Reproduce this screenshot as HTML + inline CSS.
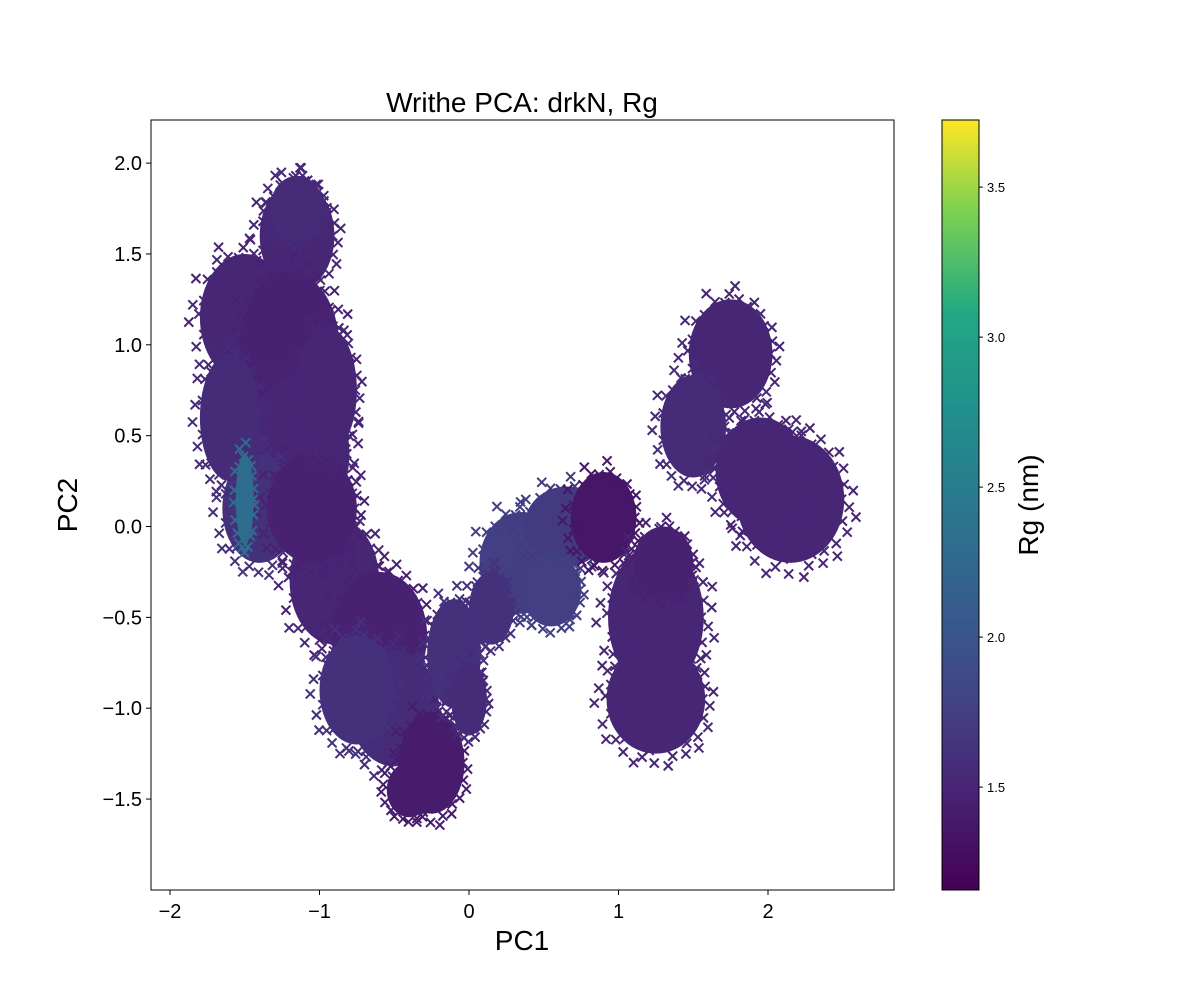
<!DOCTYPE html>
<html><head><meta charset="utf-8"><style>
body{margin:0;background:#fff;font-family:"Liberation Sans","DejaVu Sans",sans-serif}
svg text{font-family:"Liberation Sans","DejaVu Sans",sans-serif}
</style></head><body>
<svg id="chart" width="1200" height="1000" xmlns="http://www.w3.org/2000/svg">
<rect width="1200" height="1000" fill="#fff"/>
<g id="marks"></g>
<rect x="151" y="120" width="743" height="770" fill="none" stroke="#000" stroke-width="1"/>
<g id="xaxis"></g>
<g id="yaxis"></g>
<text x="522" y="112" font-size="28" text-anchor="middle">Writhe PCA: drkN, Rg</text>
<text x="522" y="950" font-size="28" text-anchor="middle">PC1</text>
<text transform="translate(77,505) rotate(-90)" font-size="28" text-anchor="middle">PC2</text>
<defs><linearGradient id="vir" x1="0" y1="1" x2="0" y2="0">
<stop offset="0" stop-color="#440154"/><stop offset="0.13" stop-color="#482475"/><stop offset="0.25" stop-color="#414487"/><stop offset="0.38" stop-color="#355f8d"/><stop offset="0.5" stop-color="#2a788e"/><stop offset="0.63" stop-color="#21918c"/><stop offset="0.75" stop-color="#22a884"/><stop offset="0.88" stop-color="#7ad151"/><stop offset="1" stop-color="#fde725"/></linearGradient></defs>
<rect x="942" y="120" width="37" height="770" fill="url(#vir)" stroke="#000" stroke-width="1"/>
<g id="cbaxis"></g>
<text transform="translate(1038,505) rotate(-90)" font-size="28" text-anchor="middle">Rg (nm)</text>
</svg>
<script>
const xTicks=[-2,-1,0,1,2];
const yTicks=[-1.5,-1.0,-0.5,0.0,0.5,1.0,1.5,2.0];
const cbTicks=[1.5,2.0,2.5,3.0,3.5];
// clusters: centre x, centre y, radius x, radius y (data units), Rg value
const clusterX=[-1.15,-1.5,-1.2,-1.15,-1.4,-0.9,-0.6,-0.5,-0.25,-0.1,0.35,0.65,0.9,1.25,1.25,1.75,1.5,2.15,-1.6,-1.05,-0.75,-0.4,0.15,0.0,0.55,1.95,1.3,-1.15,-0.95,-1.5];
const clusterY=[1.6,1.15,1.0,0.4,0.1,-0.3,-0.6,-1.0,-1.3,-0.7,-0.2,0.0,0.05,-0.5,-0.95,0.95,0.55,0.15,0.6,0.1,-0.9,-1.45,-0.45,-0.95,-0.35,0.3,-0.2,1.75,0.75,0.15];
const clusterRX=[0.25,0.3,0.33,0.35,0.25,0.3,0.32,0.3,0.22,0.18,0.28,0.28,0.22,0.32,0.33,0.28,0.22,0.36,0.2,0.3,0.25,0.15,0.15,0.12,0.2,0.3,0.2,0.18,0.2,0.06];
const clusterRY=[0.3,0.35,0.4,0.42,0.3,0.35,0.35,0.32,0.28,0.3,0.28,0.22,0.25,0.4,0.3,0.3,0.28,0.35,0.35,0.3,0.3,0.15,0.2,0.2,0.2,0.3,0.2,0.18,0.35,0.25];
const clusterRg=[1.5,1.5,1.45,1.5,1.6,1.5,1.45,1.55,1.4,1.6,1.75,1.7,1.35,1.5,1.5,1.5,1.55,1.5,1.55,1.45,1.6,1.4,1.6,1.55,1.75,1.5,1.45,1.55,1.5,2.3];
const NS="http://www.w3.org/2000/svg";
const xS=v=>469+v*149.5, yS=v=>526.5-v*181.7, cS=v=>890-(v-1.157)*300;
function vir(v){const t=Math.max(0,Math.min(1,(v-1.157)/(3.723-1.157)));
const st=[[68,1,84],[72,36,117],[65,68,135],[53,95,141],[42,120,142],[33,145,140],[34,168,132],[122,209,81],[253,231,37]];
const p=t*8,i=Math.min(7,Math.floor(p)),f=p-i;return `rgb(${st[i].map((c,k)=>Math.round(c+(st[i+1][k]-c)*f)).join(',')})`;}
function mk(tag,a){const e=document.createElementNS(NS,tag);for(const k in a)e.setAttribute(k,a[k]);return e;}
const g=document.getElementById('marks');
function xm(px,py,col){const p=mk('path',{d:`M${px-4.5},${py-4.5}L${px+4.5},${py+4.5}M${px-4.5},${py+4.5}L${px+4.5},${py-4.5}`,stroke:col,'stroke-width':2});


g.appendChild(p);}
clusterX.forEach((cx,i)=>{
 const col=vir(clusterRg[i]);const px=xS(cx),py=yS(clusterY[i]),rx=clusterRX[i]*149.5,ry=clusterRY[i]*181.7;
 const e=mk('ellipse',{cx:px,cy:py,rx:rx,ry:ry,fill:col});
 
 
 g.appendChild(e);
 const n=Math.round((rx+ry)/2.5);
 for(let k=0;k<n;k++){const a=k*2.399,r=0.95+0.3*((k*7)%5)/4;
  xm(px+Math.cos(a)*rx*r,py+Math.sin(a)*ry*r,col);}
});
// axes
const xa=document.getElementById('xaxis');
xTicks.forEach(v=>{const x=xS(v);xa.appendChild(mk('line',{x1:x,x2:x,y1:890,y2:895,stroke:'#000'}));
 const t=mk('text',{x:x,y:918,'font-size':20,'text-anchor':'middle'});t.textContent=v<0?'\u2212'+Math.abs(v):v;xa.appendChild(t);});
const ya=document.getElementById('yaxis');
yTicks.forEach(v=>{const y=yS(v);ya.appendChild(mk('line',{x1:146,x2:151,y1:y,y2:y,stroke:'#000'}));
 const t=mk('text',{x:142,y:y+7,'font-size':20,'text-anchor':'end'});t.textContent=(v<0?'\u2212':'')+Math.abs(v).toFixed(1);ya.appendChild(t);});
const ca=document.getElementById('cbaxis');
cbTicks.forEach(v=>{const y=cS(v);ca.appendChild(mk('line',{x1:979,x2:983,y1:y,y2:y,stroke:'#000'}));
 const t=mk('text',{x:987,y:y+5,'font-size':13});t.textContent=v.toFixed(1);ca.appendChild(t);});
</script>
</body></html>
